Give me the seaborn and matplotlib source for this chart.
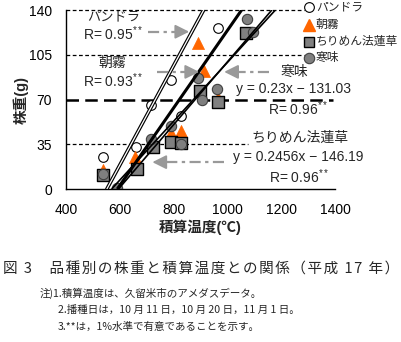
import matplotlib
matplotlib.use("Agg")
import matplotlib.pyplot as plt
import matplotlib.patheffects as pe
from matplotlib.lines import Line2D
import numpy as np
import pandas as pd
import seaborn as sns

sns.set_theme(style="white")
plt.rcParams["font.family"] = ["Liberation Sans", "Noto Sans CJK JP", "DejaVu Sans"]
plt.rcParams["mathtext.fontset"] = "custom"
plt.rcParams["mathtext.rm"] = "Liberation Sans"

# 品種
varieties = ["パンドラ", "朝霧", "ちりめん法蓮草", "寒味"]

# 積算温度 (℃) と 株重 (g)
pandora_temp = [536, 662, 717, 789, 826, 966]
pandora_wt = [25, 33, 66, 85, 57, 126]

asagiri_temp = [536, 658, 789, 826, 892, 913, 966]
asagiri_wt = [15, 25, 44, 45, 114, 92, 71]

chirimen_temp = [536, 664, 724, 789, 826, 897, 966, 1069]
chirimen_wt = [11, 16, 33, 37, 36, 77, 68, 122]

kanmi_temp = [536, 589, 717, 789, 826, 891, 905, 963, 1074, 1094]
kanmi_wt = [12, 1, 39, 49, 35, 87, 70, 78, 133, 123]

# 回帰直線 y = a x + b
slopes = [0.389, 0.303, 0.2456, 0.23]
intercepts = [-214.7, -179.0, -146.19, -131.03]
r_values = ["0.95", "0.93", "0.96", "0.96"]

x_ticks = [400, 600, 800, 1000, 1200, 1400]
y_ticks = [0, 35, 70, 105, 140]

W, H = 402, 342
fig = plt.figure(figsize=(W / 100, H / 100), dpi=100)
ax = fig.add_axes([66 / W, 1 - 189 / H, (335 - 66) / W, (189 - 10) / H])
ax.set_facecolor("white")

ax.set_xlim(400, 1400)
ax.set_ylim(0, 140)

# 補助線
ax.plot([400, 1286], [140, 140], color="black", lw=0.9, ls=(0, (3, 2)), zorder=1, clip_on=False)
ax.plot([400, 1286], [105, 105], color="black", lw=0.9, ls=(0, (3, 2)), zorder=1)
ax.plot([400, 1394], [70, 70], color="black", lw=1.8, ls=(0, (5, 2.5)), zorder=1)
ax.plot([400, 1077], [35, 35], color="black", lw=0.9, ls=(0, (3, 2)), zorder=1)

groups = pd.DataFrame({
    "temp": pandora_temp + asagiri_temp + chirimen_temp + kanmi_temp,
    "wt": pandora_wt + asagiri_wt + chirimen_wt + kanmi_wt,
    "variety": [varieties[0]] * len(pandora_temp) + [varieties[1]] * len(asagiri_temp)
    + [varieties[2]] * len(chirimen_temp) + [varieties[3]] * len(kanmi_temp),
})

styles = {
    "パンドラ": dict(marker="o", s=48, color="white", edgecolor="black", linewidth=0.8),
    "朝霧": dict(marker="^", s=75, color="#FF6600", edgecolor="#FF6600", linewidth=0.5),
    "ちりめん法蓮草": dict(marker="s", s=70, color="#808080", edgecolor="black", linewidth=1.0),
    "寒味": dict(marker="o", s=55, color="#7f7f7f", edgecolor="#404040", linewidth=0.8),
}
for i, v in enumerate(varieties):
    sub = groups[groups["variety"] == v]
    sns.scatterplot(data=sub, x="temp", y="wt", ax=ax, zorder=2 + i * 0.1,
                    legend=False, **styles[v])

# 回帰直線
line_widths = [0.9, 2.2, 1.2, 1.2]
for i, (a, b) in enumerate(zip(slopes, intercepts)):
    xs = np.array([(0 - b) / a, (140 - b) / a])
    ys = a * xs + b
    if i == 0:
        ax.plot(xs, ys, color="white", lw=line_widths[i], zorder=3,
                path_effects=[pe.Stroke(linewidth=2.6, foreground="black"), pe.Normal()])
    else:
        ax.plot(xs, ys, color="black", lw=line_widths[i], zorder=3,
                solid_capstyle="butt")


def pointer(x0, x1, y):
    ax.plot([x0, x1 - np.sign(x1 - x0) * 15], [y, y], color="#999999", lw=1.6,
            ls=(0, (5, 2, 1.5, 2)), zorder=4)
    ax.annotate("", xy=(x1, y), xytext=(x1 - np.sign(x1 - x0) * 30, y),
                arrowprops=dict(arrowstyle="-|>,head_length=0.7,head_width=0.35",
                                color="#999999", lw=1.4, shrinkA=0, shrinkB=0),
                zorder=4)


def r_label(x, y, r):
    return ax.text(x, y, f"R= {r}$^{{**}}$", fontsize=10, ha="left", va="center",
                   zorder=6)


# パンドラ
ax.text(576, 134.5, varieties[0], fontsize=9.5, ha="center", va="center", zorder=5)
r_label(463, 121.5, r_values[0])
pointer(706, 858, 123)

# 朝霧
ax.text(572, 98.5, varieties[1], fontsize=10, ha="center", va="center", zorder=5)
r_label(463, 85, r_values[1])
pointer(740, 895, 91.6)

# 寒味
ax.text(1249, 91.6, varieties[3], fontsize=10, ha="center", va="center", zorder=5)
pointer(1155, 988, 91.6)
ax.text(1032, 78.3, f"y = {slopes[3]}x − {abs(intercepts[3]):.2f}", fontsize=10,
        ha="left", va="center", zorder=5)
r_label(1151, 63, r_values[3])

# ちりめん法蓮草
ax.text(1088, 40, varieties[2], fontsize=10, ha="left", va="center", zorder=5,
        bbox=dict(facecolor="white", edgecolor="none", pad=0.5))
pointer(987, 721, 21)
ax.text(1021, 25, f"y = {slopes[2]}x − {abs(intercepts[2]):.2f}", fontsize=10,
        ha="left", va="center", zorder=5)
r_label(1155, 9.6, r_values[2])

# 軸
ax.set_xticks(x_ticks)
ax.set_yticks(y_ticks)
ax.set_xticklabels([str(v) for v in x_ticks], fontsize=10)
ax.set_yticklabels([str(v) for v in y_ticks], fontsize=10)
ax.tick_params(axis="x", direction="in", length=4, width=0.8, pad=10, colors="black")
ax.tick_params(axis="y", length=0, pad=10, colors="black")
for side in ["top", "right"]:
    ax.spines[side].set_visible(False)
for side in ["left", "bottom"]:
    ax.spines[side].set_color("black")
    ax.spines[side].set_linewidth(1.0)

ax.set_xlabel("積算温度(℃)", fontsize=10.5, fontweight="bold", labelpad=2)
ax.set_ylabel("株重(g)", fontsize=10.5, fontweight="bold", labelpad=0)

# 凡例
legend_markers = [
    dict(marker="o", ms=7, mfc="white", mec="black", mew=0.8),
    dict(marker="^", ms=8, mfc="#FF6600", mec="#FF6600"),
    dict(marker="s", ms=7.5, mfc="#808080", mec="black", mew=1.0),
    dict(marker="o", ms=7.5, mfc="#7f7f7f", mec="#404040", mew=0.8),
]
legend_rows = [7, 25, 42, 58]
for name, mk, row in zip(varieties, legend_markers, legend_rows):
    fig.add_artist(Line2D([309 / W], [1 - row / H], ls="none",
                          transform=fig.transFigure, **mk))
    fig.text(316 / W, 1 - row / H, name, fontsize=8.5, ha="left", va="center")

# 図のタイトルと注
hair = "\u200a"
title = "図 3　品種別の株重と積算温度との関係（平成 17 年）"
fig.text(3 / W, 1 - 270 / H, hair.join(title),
         fontsize=10.5, ha="left", va="center", family=["Noto Sans CJK JP", "DejaVu Sans"])
fig.text(40 / W, 1 - 293 / H, "注)1.積算温度は、久留米市のアメダスデータ。",
         fontsize=7.6, ha="left", va="center", family=["Noto Sans CJK JP"])
fig.text(58 / W, 1 - 310 / H, "2.播種日は，10 月 11 日，10 月 20 日，11 月 1 日。",
         fontsize=7.6, ha="left", va="center", family=["Noto Sans CJK JP"])
fig.text(58 / W, 1 - 327 / H, "3.**は，1%水準で有意であることを示す。",
         fontsize=7.6, ha="left", va="center", family=["Noto Sans CJK JP"])

fig.savefig("out.png", dpi=100, facecolor="white")
